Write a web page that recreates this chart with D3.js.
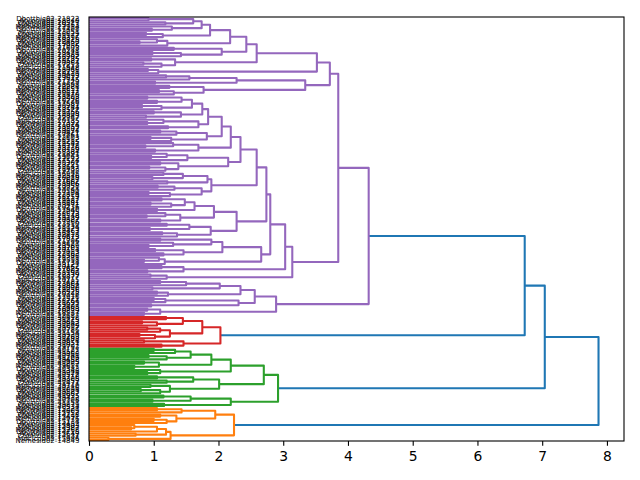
<!DOCTYPE html>
<html>
<head>
<meta charset="utf-8">
<script src="https://cdn.jsdelivr.net/npm/d3@7"></script>
<style>
  body { margin: 0; background: #fff; }
  svg { display: block; }
</style>
</head>
<body>
<script>
// merge height between each pair of neighbouring leaves, top to bottom
const purpleGaps = [
  0.92, 1.61, 1.18, 1.74, 1.28, 0.97, 1.87, 0.88, 1.14, 2.18,
  1.05, 0.78, 1.21, 2.43, 1.31, 2.05, 0.98, 1.42, 2.59, 0.96,
  1.33, 0.84, 1.12, 3.52, 0.91, 1.07, 3.72, 1.19, 1.55, 2.28,
  1.02, 3.34, 1.24, 1.77, 1.08, 1.31, 3.85, 0.90, 1.43, 1.05,
  1.59, 0.82, 1.12, 1.75, 1.00, 1.42, 0.88, 1.84, 1.15, 0.90,
  1.69, 1.22, 2.05, 1.10, 1.35, 1.82, 0.95, 1.27, 2.19, 1.30,
  0.87, 1.69, 1.02, 2.34, 1.20, 0.96, 1.52, 2.15, 1.10, 1.38,
  0.93, 1.18, 2.59, 1.15, 1.45, 0.98, 1.83, 1.21, 1.89, 1.06,
  1.32, 1.74, 0.92, 1.25, 2.74, 1.12, 1.48, 0.95, 1.27, 1.63,
  1.05, 1.93, 1.18, 0.89, 1.41, 1.10, 2.28, 1.20, 1.55, 0.94,
  1.88, 1.13, 1.36, 2.80, 1.10, 1.89, 1.30, 0.92, 2.06, 1.02,
  1.46, 1.15, 2.66, 1.08, 0.85, 1.17, 3.03, 1.12, 1.46, 0.90,
  3.14, 0.95, 1.20, 4.32, 1.10, 1.50, 2.02, 0.98, 2.34, 1.05,
  1.22, 2.56, 1.00, 1.18, 2.31, 0.96, 2.89, 0.90, 1.10, 0.85
];
const redGaps = [1.19, 1.45, 0.82, 1.05, 1.75, 0.90, 1.10, 1.25, 0.78, 1.02, 2.03, 0.85, 1.46, 1.12];
const greenGaps = [
  1.00, 1.33, 1.57, 0.92, 1.20, 1.89, 0.85, 1.08, 0.70, 2.19,
  1.10, 0.90, 2.70, 1.05, 1.61, 1.20, 2.01, 0.95, 1.25, 0.80,
  1.10, 2.92, 1.15, 1.57, 0.98, 2.19, 1.16
];
const orangeGaps = [1.05, 1.43, 1.95, 1.10, 1.35, 1.00, 1.20, 2.24, 0.70, 0.65, 1.05, 1.19, 0.72, 1.26, 0.30];
// purple|red, red|green, green|orange
const clusterJoins = [6.73, 7.04, 7.87];

const purpleIds = [
  21822, 18340, 20517, 19763, 22914, 17408, 23051, 16629, 21177, 20396,
  18815, 22460, 19032, 17956, 21603, 20248, 18471, 23389, 16902, 22135,
  19587, 20864, 17213, 21948, 18066, 22731, 19410, 20093, 23617, 17745,
  21329, 18698, 22284, 19851, 16517, 20672, 21470, 18203, 22998, 19226,
  17589, 20981, 23144, 18527, 21756, 19908, 16843, 22367, 20135, 17392,
  21014, 18959, 23502, 19674, 20421, 17861, 22603, 18112, 21285, 19547,
  16778, 23236, 20759, 18384, 21891, 19063, 22172, 17524, 20307, 23725,
  18641, 21433, 19795, 16995, 22546, 20018, 17687, 21662, 18906, 23058,
  19321, 20590, 17104, 22819, 18259, 21117, 19982, 16681, 23471, 20236,
  17940, 22095, 18573, 21548, 19139, 20887, 17266, 23310, 18734, 21979,
  19463, 16857, 22418, 20673, 17812, 21206, 18427, 23589, 19705, 20154,
  17053, 22763, 18986, 21371, 19598, 16734, 23127, 20462, 17625, 21807,
  18190, 22339, 19877, 20715, 17481, 23664, 18852, 21090, 19256, 16925,
  20348, 17916, 22571, 18764, 21695, 19027, 23408, 16983, 20829, 18537,
  22687
];
const redIds = [30418, 31275, 29863, 30942, 31609, 29517, 30786, 31154, 29930, 30263, 31488, 29674, 30851, 31027, 29792];
const greenIds = [
  40127, 41583, 39866, 40741, 41209, 39458, 40995, 41862, 39617, 40383,
  41346, 39924, 40572, 41718, 39305, 40859, 41471, 39740, 40216, 41094,
  39583, 40667, 41935, 39412, 40308, 41157, 39879, 40534
];
const orangeIds = [15327, 14609, 15752, 14218, 15491, 14976, 15134, 14452, 15803, 14387, 15268, 14715, 15649, 14531, 15986, 14843];
const labelStems = ['Dbotthic', 'Atypoid', 'Ctenizid', 'Mecicob', 'Nemesid'];

const xTicks = [0, 1, 2, 3, 4, 5, 6, 7, 8];
// matplotlib C1..C4, handed out from the bottom cluster up
const palette = ['#ff7f0e', '#2ca02c', '#d62728', '#9467bd'];
const aboveColor = '#1f77b4';

const W = 640, H = 480;
const box = { left: 89, right: 624, top: 17, bottom: 441 };

const gaps = [...purpleGaps, clusterJoins[0], ...redGaps, clusterJoins[1],
  ...greenGaps, clusterJoins[2], ...orangeGaps];
const ids = [...purpleIds, ...redIds, ...greenIds, ...orangeIds];
const n = ids.length;
const labels = ids.map((id, i) => `${labelStems[i % labelStems.length]}02-${id}`);

// leaf i (top down) sits at 10k+5 with k counted from the bottom, like scipy
const leafPos = (i) => 10 * (n - 1 - i) + 5;

// the largest gap in a run of leaves is where that run splits in two
const build = (lo, hi) => {
  if (lo === hi) return { leaf: lo, h: 0 };
  let k = lo;
  for (let j = lo; j < hi; j++) if (gaps[j] > gaps[k]) k = j;
  return { h: gaps[k], children: [build(lo, k), build(k + 1, hi)] };
};

const root = d3.hierarchy(build(0, n - 1));
const maxH = root.data.h;
const threshold = 0.7 * maxH;

root.eachAfter((d) => {
  d.pos = d.children ? (d.children[0].pos + d.children[1].pos) / 2 : leafPos(d.data.leaf);
});

// colour clusters below the threshold
let clusters = [];
root.each((d) => {
  if (d.children && d.data.h < threshold && (!d.parent || d.parent.data.h >= threshold)) clusters.push(d);
});
clusters.sort((a, b) => a.pos - b.pos);
clusters.forEach((c, i) => c.each((d) => { d.color = palette[i % palette.length]; }));

const x = d3.scaleLinear().domain([0, maxH * 1.05]).range([box.left, box.right]);
const y = d3.scaleLinear().domain([0, 10 * n]).range([box.bottom, box.top]);

let svg = d3.select('body')
  .append('svg')
  .attr('width', W)
  .attr('height', H);

svg.append('defs').append('clipPath').attr('id', 'clip')
  .append('rect')
  .attr('x', box.left).attr('y', box.top)
  .attr('width', box.right - box.left).attr('height', box.bottom - box.top);

let links = root.descendants().filter((d) => d.children);

svg.append('g')
  .attr('clip-path', 'url(#clip)')
  .selectAll('path')
  .data(links)
  .enter()
  .append('path')
  .attr('fill', 'none')
  .attr('stroke', (d) => d.color || aboveColor)
  .attr('stroke-width', 2.08)
  .attr('stroke-linejoin', 'round')
  .attr('d', (d) => {
    let [a, b] = d.children;
    return `M${x(a.data.h)},${y(a.pos)}H${x(d.data.h)}V${y(b.pos)}H${x(b.data.h)}`;
  });

// leaf labels
let labelOf = new Map(labels.map((l, i) => [leafPos(i), l]));
let yAxis = svg.append('g')
  .attr('transform', `translate(${box.left},0)`)
  .call(d3.axisLeft(y)
    .tickValues(labels.map((_, i) => leafPos(i)))
    .tickFormat((d) => labelOf.get(d))
    .tickSize(0)
    .tickPadding(9.7));
yAxis.select('.domain').remove();
yAxis.selectAll('line').remove();
yAxis.selectAll('text')
  .attr('font-family', 'DejaVu Sans')
  .attr('font-size', 6.94)
  .attr('fill', '#000');

let xAxis = svg.append('g')
  .attr('transform', `translate(0,${box.bottom})`)
  .call(d3.axisBottom(x).tickValues(xTicks).tickSize(4.86).tickPadding(4.86));
xAxis.select('.domain').remove();
xAxis.selectAll('line').attr('stroke', '#000').attr('stroke-width', 1.1);
xAxis.selectAll('text')
  .attr('font-family', 'DejaVu Sans')
  .attr('font-size', 13.89)
  .attr('fill', '#000');

svg.append('rect')
  .attr('x', box.left).attr('y', box.top)
  .attr('width', box.right - box.left).attr('height', box.bottom - box.top)
  .attr('fill', 'none')
  .attr('stroke', '#000')
  .attr('stroke-width', 1.1);
</script>
</body>
</html>
